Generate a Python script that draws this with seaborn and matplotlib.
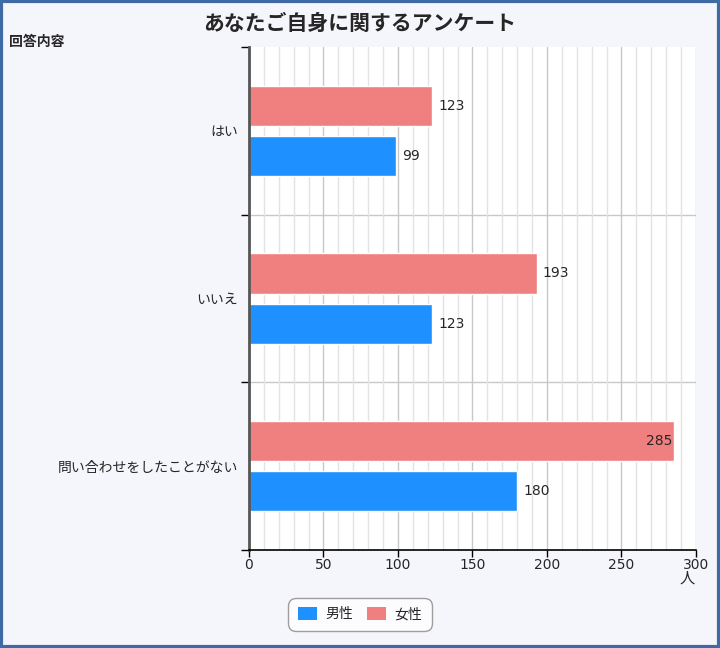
import pandas as pd
import matplotlib.pyplot as plt
import seaborn as sns
from matplotlib.patches import Patch
from matplotlib.ticker import MultipleLocator, FixedLocator

# データ
answers = ['はい', 'いいえ', '問い合わせをしたことがない']
genders = ['男性', '女性']
male = [99, 123, 180]
female = [123, 193, 285]
colors = {'男性': '#1E90FF', '女性': '#F08080'}

df = pd.DataFrame({
    'answer': answers * 2,
    'gender': ['男性'] * 3 + ['女性'] * 3,
    'count': male + female,
})

sns.set_style('white')
plt.rcParams['font.family'] = ['DejaVu Sans', 'Noto Sans CJK JP']

fig = plt.figure(figsize=(7.2, 6.48), dpi=100)
fig.patch.set_facecolor('#f5f5fc')
ax = fig.add_axes([0.3458, 0.1512, 0.6208, 0.7762])
ax.set_facecolor('white')

# 女性を上に描く
sns.barplot(data=df, x='count', y='answer', hue='gender', hue_order=['女性', '男性'],
            order=answers, palette=colors, width=0.6, gap=0.2, orient='h',
            legend=False, ax=ax, saturation=1)

ax.set_xlim(0, 300)
ax.set_ylim(2.5, -0.5)
ax.xaxis.set_major_locator(MultipleLocator(50))
ax.xaxis.set_minor_locator(MultipleLocator(10))
ax.grid(axis='x', which='minor', color='#e3e3e3', lw=1)
ax.grid(axis='x', which='major', color='#c8c8c8', lw=1)
ax.set_axisbelow(True)
for yb in [0.5, 1.5]:
    ax.axhline(yb, color='#c8c8c8', lw=1, zorder=0.5)

# y軸: 境界に目盛り、中央にラベル
ax.yaxis.set_major_locator(FixedLocator([-0.5, 0.5, 1.5, 2.5]))
ax.set_yticklabels([])
ax.yaxis.set_minor_locator(FixedLocator([0, 1, 2]))
ax.set_yticklabels(answers, minor=True, fontsize=10)
ax.tick_params(axis='y', which='major', left=True, length=6, width=1, color='black')
ax.tick_params(axis='y', which='minor', left=False, length=0, pad=8)
ax.tick_params(axis='x', which='major', bottom=True, length=5, width=1, color='black',
               labelsize=10, pad=1)
ax.tick_params(axis='x', which='minor', bottom=False)

for s in ['top', 'right']:
    ax.spines[s].set_visible(False)
ax.spines['left'].set_color('#555555')
ax.spines['left'].set_linewidth(2)
ax.spines['bottom'].set_color('black')
ax.spines['bottom'].set_linewidth(1.2)
ax.set_xlabel('')
ax.set_ylabel('')

# 値ラベル
for cont in ax.containers:
    for bar in cont:
        v = bar.get_width()
        yc = bar.get_y() + bar.get_height() / 2
        if v > 270:
            ax.text(v - 1, yc, f'{int(v)}', ha='right', va='center', fontsize=10)
        else:
            ax.text(v + 4, yc, f'{int(v)}', ha='left', va='center', fontsize=10)

fig.text(0.5, 0.963, 'あなたご自身に関するアンケート', ha='center', va='center',
         fontsize=15, fontweight='bold')
fig.text(0.013, 0.935, '回答内容', ha='left', va='center', fontsize=10, fontweight='bold')
ax.text(294, -0.056, '人', transform=ax.get_xaxis_transform(), ha='center',
        va='center', fontsize=11)

handles = [Patch(facecolor=colors[g], edgecolor='none', label=g) for g in genders]
leg = fig.legend(handles=handles, loc='center', bbox_to_anchor=(0.5, 0.052), ncol=2,
                 frameon=True, fontsize=10, handlelength=1.4, handleheight=1.0,
                 columnspacing=1.0, handletextpad=0.6, borderpad=0.5)
leg.get_frame().set_edgecolor('#888888')
leg.get_frame().set_boxstyle('round,pad=0.2,rounding_size=0.6')

# 外枠
fig.patches.append(plt.Rectangle((0.002, 0.002), 0.996, 0.996, transform=fig.transFigure,
                                 fill=False, edgecolor='#3e6aa5', lw=3))

fig.savefig('out.png', dpi=100, facecolor=fig.get_facecolor())
